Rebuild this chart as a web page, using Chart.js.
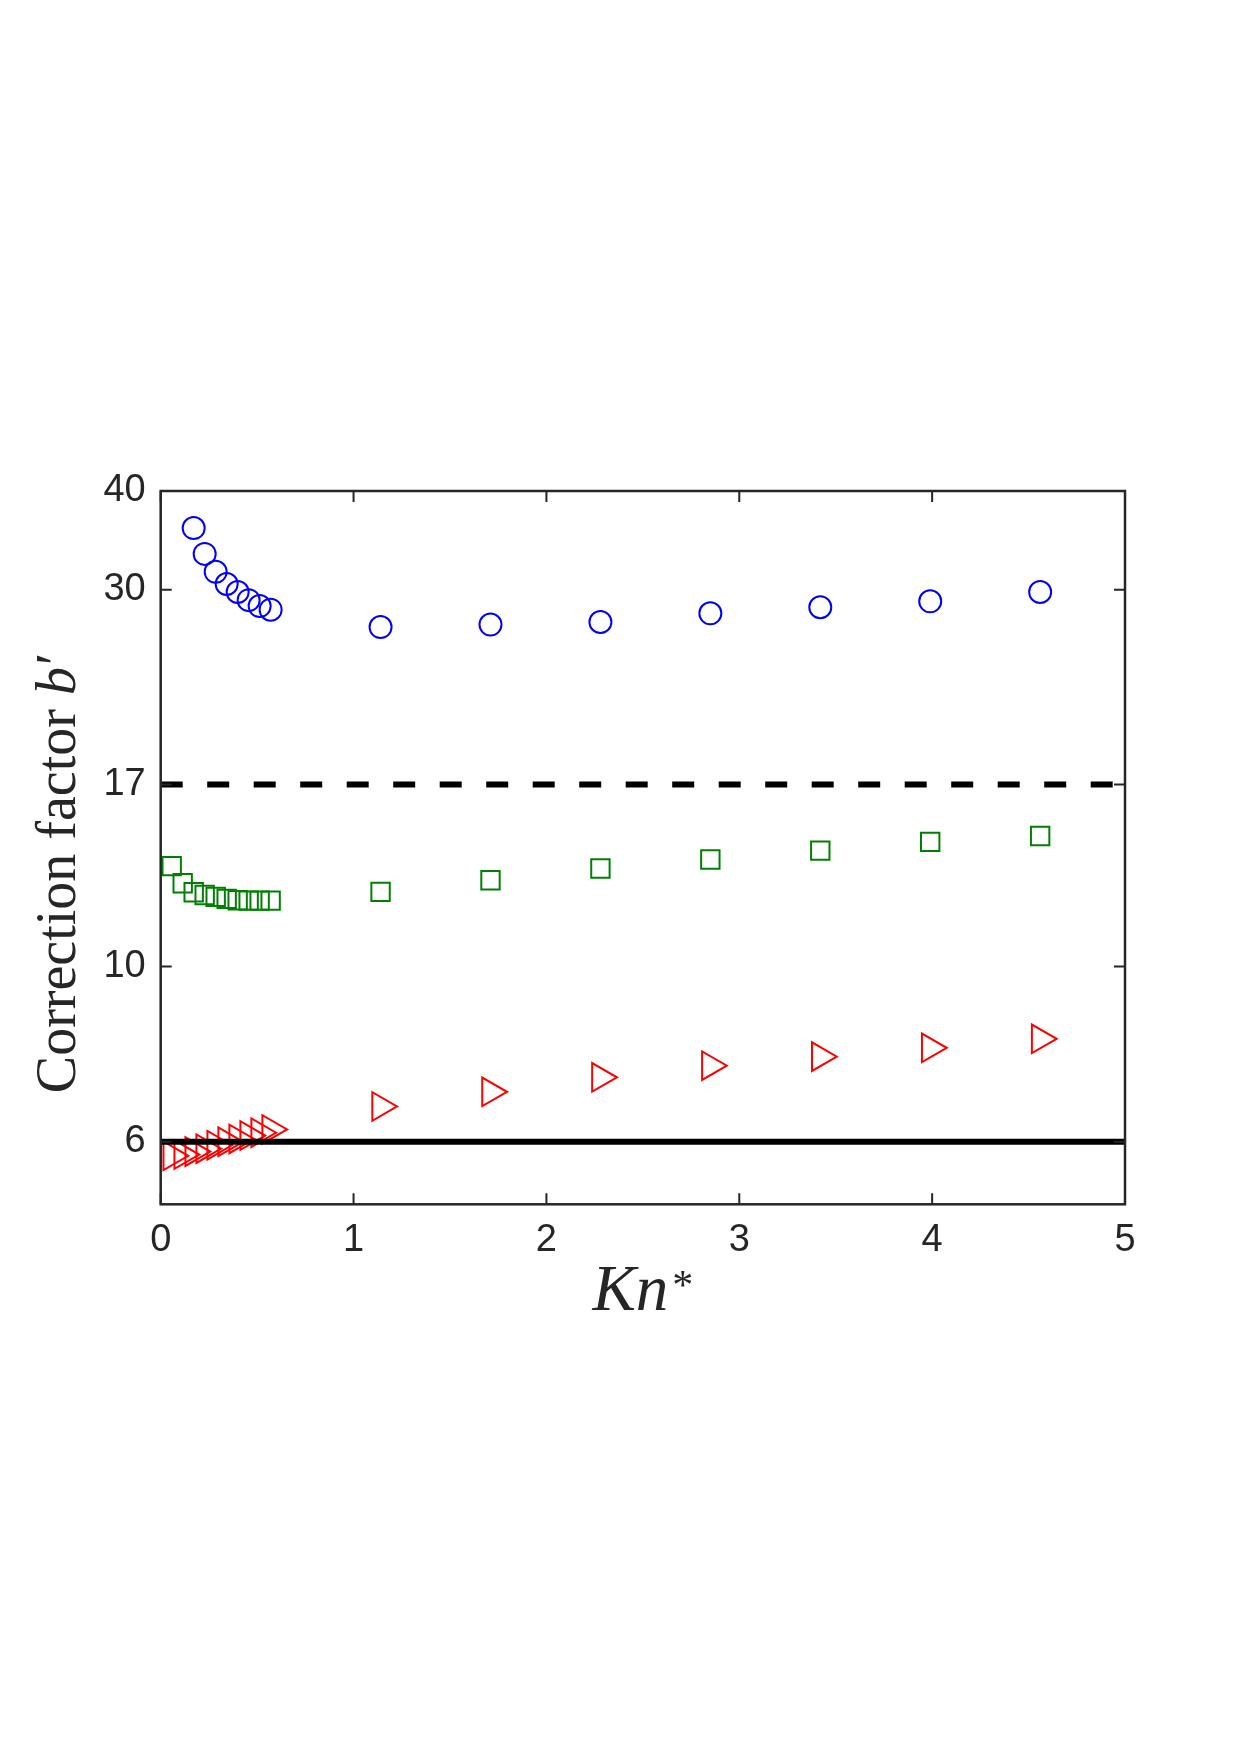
<!DOCTYPE html>
<html lang="en">
<head>
<meta charset="UTF-8">
<title>Correction factor b' vs Kn*</title>
<script src="https://cdn.jsdelivr.net/npm/chart.js"></script>
<style>
    html, body { margin: 0; padding: 0; background: #fff; }
</style>
</head>
<body>

<canvas id="bChart" width="1240" height="1755"></canvas>

<script>
    // Kn* values (first ten close to zero, then the wider spaced ones)
    var kn = [0.057, 0.114, 0.171, 0.228, 0.285, 0.342, 0.399, 0.456, 0.513, 0.570,
              1.14, 1.71, 2.28, 2.85, 3.42, 3.99, 4.56];
    // correction factor b' for the three cases
    var bCircle   = [null, null, 35.9, 33.3, 31.6, 30.5, 29.8, 29.1, 28.6, 28.3,
                     26.9, 27.1, 27.3, 28.0, 28.5, 29.0, 29.8];
    var bSquare   = [13.4, 12.75, 12.42, 12.32, 12.25, 12.18, 12.13, 12.12, 12.12, 12.12,
                     12.43, 12.86, 13.31, 13.66, 14.02, 14.38, 14.63];
    var bTriangle = [5.76, 5.78, 5.83, 5.88, 5.94, 6.00, 6.05, 6.11, 6.16, 6.22,
                     6.65, 6.94, 7.24, 7.49, 7.69, 7.89, 8.10];
    // reference levels
    var refSolid = 6;
    var refDashed = 17;
    var xRange = [0, 5];
    var yRange = [5, 40];
    var xTicks = [0, 1, 2, 3, 4, 5];
    var yTicks = [6, 10, 17, 30, 40];

    function pts(ys) {
        var out = [];
        for (var i = 0; i < kn.length; i++) {
            if (ys[i] !== null) out.push({x: kn[i], y: ys[i]});
        }
        return out;
    }

    var axisColor = '#262626';
    var tickLen = 11;

    // box, inward ticks and axis titles
    var framePlugin = {
        id: 'frame',
        afterDatasetsDraw: function(chart) {
            var ctx = chart.ctx;
            var a = chart.chartArea;
            var xs = chart.scales.x, ys = chart.scales.y;
            ctx.save();
            ctx.strokeStyle = axisColor;
            ctx.lineWidth = 2.5;
            ctx.strokeRect(a.left, a.top, a.right - a.left, a.bottom - a.top);
            ctx.lineWidth = 2;
            ctx.beginPath();
            xTicks.forEach(function(v) {
                var px = xs.getPixelForValue(v);
                ctx.moveTo(px, a.bottom); ctx.lineTo(px, a.bottom - tickLen);
                ctx.moveTo(px, a.top); ctx.lineTo(px, a.top + tickLen);
            });
            yTicks.forEach(function(v) {
                var py = ys.getPixelForValue(v);
                ctx.moveTo(a.left, py); ctx.lineTo(a.left + tickLen, py);
                ctx.moveTo(a.right, py); ctx.lineTo(a.right - tickLen, py);
            });
            ctx.stroke();

            ctx.fillStyle = axisColor;
            ctx.textBaseline = 'alphabetic';
            ctx.textAlign = 'left';

            // x title: Kn*
            var cx = (a.left + a.right) / 2;
            ctx.font = 'italic 65px "Liberation Serif"';
            var wKn = ctx.measureText('Kn').width;
            ctx.font = '42px "Liberation Serif"';
            var wStar = ctx.measureText('*').width;
            var x0 = cx - (wKn + wStar + 4) / 2;
            ctx.font = 'italic 65px "Liberation Serif"';
            ctx.fillText('Kn', x0, 1310);
            ctx.font = '42px "Liberation Serif"';
            ctx.fillText('*', x0 + wKn + 4, 1299);

            // y title: Correction factor b'
            ctx.translate(75, 874);
            ctx.rotate(-Math.PI / 2);
            ctx.font = '56px "Liberation Serif"';
            var w1 = ctx.measureText('Correction factor ').width;
            ctx.font = 'italic 56px "Liberation Serif"';
            var w2 = ctx.measureText('b').width;
            ctx.font = '56px "Liberation Serif"';
            var w3 = ctx.measureText('\u2032').width;
            var s = -(w1 + w2 + w3) / 2;
            ctx.fillText('Correction factor ', s, 0);
            ctx.font = 'italic 56px "Liberation Serif"';
            ctx.fillText('b', s + w1, 0);
            ctx.font = '56px "Liberation Serif"';
            ctx.fillText('\u2032', s + w1 + w2 + 2, 0);
            ctx.restore();
        }
    };

    var ctx = document.getElementById('bChart').getContext('2d');

    var bChart = new Chart(ctx, {
        type: 'scatter',
        data: {
            datasets: [
                {
                    label: 'b\' = 6',
                    data: [{x: xRange[0], y: refSolid}, {x: xRange[1], y: refSolid}],
                    showLine: true,
                    borderColor: '#000000',
                    borderWidth: 6,
                    pointRadius: 0,
                    order: 0
                },
                {
                    label: 'b\' = 17',
                    data: [{x: xRange[0], y: refDashed}, {x: xRange[1], y: refDashed}],
                    showLine: true,
                    borderColor: '#000000',
                    borderWidth: 6,
                    borderDash: [22, 24.5],
                    pointRadius: 0,
                    order: 0
                },
                {
                    label: 'circles',
                    data: pts(bCircle),
                    pointStyle: 'circle',
                    pointRadius: 11,
                    borderColor: '#0000ff',
                    backgroundColor: 'rgba(0,0,0,0)',
                    borderWidth: 2,
                    order: 1
                },
                {
                    label: 'squares',
                    data: pts(bSquare),
                    pointStyle: 'rect',
                    pointRadius: 13,
                    borderColor: '#008000',
                    backgroundColor: 'rgba(0,0,0,0)',
                    borderWidth: 2,
                    order: 1
                },
                {
                    label: 'triangles',
                    data: pts(bTriangle),
                    pointStyle: 'triangle',
                    pointRotation: 90,
                    pointRadius: 16.5,
                    borderColor: '#ff0000',
                    backgroundColor: 'rgba(0,0,0,0)',
                    borderWidth: 2,
                    order: 1
                }
            ]
        },
        options: {
            responsive: false,
            animation: false,
            layout: {
                padding: {left: 0, top: 491, right: 115, bottom: 450.7}
            },
            plugins: {
                legend: {display: false},
                tooltip: {enabled: false}
            },
            scales: {
                x: {
                    type: 'linear',
                    min: xRange[0],
                    max: xRange[1],
                    afterBuildTicks: function(scale) {
                        scale.ticks = xTicks.map(function(v) { return {value: v}; });
                    },
                    afterFit: function(scale) { scale.height = 100; },
                    grid: {display: false, drawTicks: false},
                    border: {display: false},
                    ticks: {
                        padding: 13,
                        color: axisColor,
                        font: {family: '"Liberation Sans"', size: 38},
                        maxRotation: 0,
                        callback: function(v) { return String(v); }
                    }
                },
                y: {
                    type: 'logarithmic',
                    min: yRange[0],
                    max: yRange[1],
                    afterBuildTicks: function(scale) {
                        scale.ticks = yTicks.map(function(v) { return {value: v}; });
                    },
                    afterFit: function(scale) { scale.width = 160.7; },
                    grid: {display: false, drawTicks: false},
                    border: {display: false},
                    ticks: {
                        padding: 15,
                        color: axisColor,
                        font: {family: '"Liberation Sans"', size: 38},
                        callback: function(v) { return String(v); }
                    }
                }
            }
        },
        plugins: [framePlugin]
    });
</script>

</body>
</html>
